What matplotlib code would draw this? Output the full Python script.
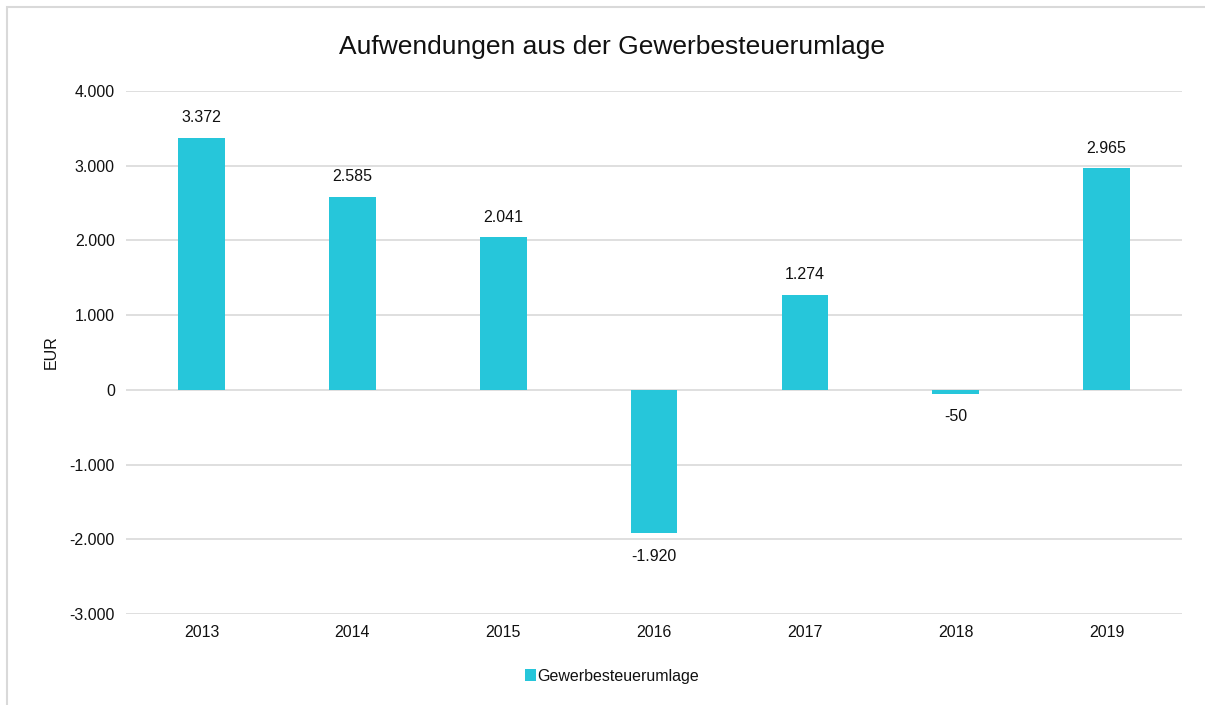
import matplotlib.pyplot as plt
import matplotlib.ticker as mticker
from matplotlib.patches import Rectangle

# data
years = ['2013', '2014', '2015', '2016', '2017', '2018', '2019']
umlage = [3372, 2585, 2041, -1920, 1274, -50, 2965]
series_name = 'Gewerbesteuerumlage'

bar_color = '#26C6DA'
grid_color = '#D9D9D9'
text_color = '#111111'
fs = 11.5

plt.rcParams['font.family'] = ['Liberation Sans', 'DejaVu Sans']


def de_format(v, pos=None):
    # German thousands separator: 3.372
    s = f'{abs(int(round(v))):,}'.replace(',', '.')
    return '-' + s if v < 0 else s


fig = plt.figure(figsize=(12.05, 7.05), dpi=100)
ax = fig.add_axes([0.1046, 0.1291, 0.8764, 0.7418])

x = range(len(years))
bars = ax.bar(x, umlage, width=0.31, color=bar_color, label=series_name, zorder=3)

ax.set_ylim(-3000, 4000)
ax.set_xlim(-0.5, len(years) - 0.5)
ax.yaxis.set_major_locator(mticker.MultipleLocator(1000))
ax.yaxis.set_major_formatter(mticker.FuncFormatter(de_format))
ax.set_xticks(list(x))
ax.set_xticklabels(years)
ax.grid(axis='y', color=grid_color, linewidth=1.2, zorder=0)
ax.tick_params(length=0, labelsize=fs, colors=text_color, pad=8)
for s in ax.spines.values():
    s.set_visible(False)

ax.set_ylabel('EUR', fontsize=fs, color=text_color, labelpad=8)

for b, v in zip(bars, umlage):
    if v >= 0:
        ax.annotate(de_format(v), (b.get_x() + b.get_width() / 2, v), xytext=(0, 9),
                    textcoords='offset points', ha='center', va='bottom',
                    fontsize=fs, color=text_color)
    else:
        ax.annotate(de_format(v), (b.get_x() + b.get_width() / 2, v), xytext=(0, -11),
                    textcoords='offset points', ha='center', va='top',
                    fontsize=fs, color=text_color)

fig.text(0.508, 0.933, 'Aufwendungen aus der Gewerbesteuerumlage', ha='center', va='center',
         fontsize=19, color=text_color)

leg = fig.legend(loc='center', bbox_to_anchor=(0.508, 0.041), frameon=False,
                 fontsize=fs, handlelength=0.7, handleheight=0.7, handletextpad=0.1)
for t in leg.get_texts():
    t.set_color(text_color)

# outer chart border like the Excel chart area
fig.patches.append(Rectangle((7 / 1205, -0.1), 1.2, 1 - 7 / 705 + 0.1, transform=fig.transFigure,
                             fill=False, edgecolor='#D9D9D9', linewidth=1.5))

fig.savefig('out.png', dpi=100)
